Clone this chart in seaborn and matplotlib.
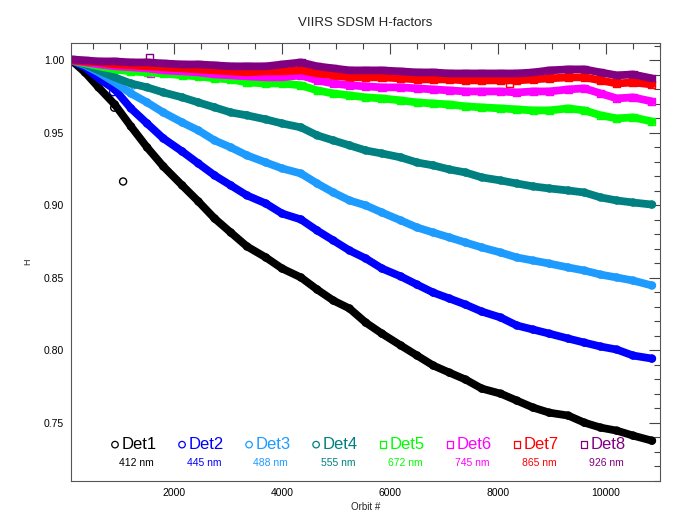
import matplotlib
matplotlib.use('Agg')
import matplotlib.pyplot as plt
import seaborn as sns
import pandas as pd
from matplotlib.ticker import MultipleLocator

# data (orbit number vs H-factor)
orbits = [100, 350, 600, 900, 1200, 1500, 1800, 2150, 2450, 2750, 3050, 3350,
          3700, 4000, 4350, 4650, 4950, 5250, 5550, 5850, 6200, 6500, 6800, 7100,
          7400, 7700, 8050, 8350, 8650, 8950, 9300, 9600, 9900, 10200, 10500, 10850]

det1 = [1.0000, 0.9917, 0.9814, 0.9696, 0.9545, 0.9400, 0.9269, 0.9138, 0.9027, 0.8910, 0.8813, 0.8717,
        0.8641, 0.8565, 0.8503, 0.8420, 0.8344, 0.8289, 0.8192, 0.8116, 0.8034, 0.7965, 0.7896, 0.7847,
        0.7799, 0.7737, 0.7702, 0.7654, 0.7606, 0.7571, 0.7551, 0.7502, 0.7468, 0.7447, 0.7413, 0.7378]
det2 = [1.0000, 0.9952, 0.9876, 0.9800, 0.9669, 0.9565, 0.9462, 0.9372, 0.9289, 0.9207, 0.9138, 0.9069,
        0.9013, 0.8944, 0.8903, 0.8827, 0.8758, 0.8689, 0.8634, 0.8565, 0.8510, 0.8454, 0.8399, 0.8358,
        0.8316, 0.8268, 0.8227, 0.8172, 0.8144, 0.8116, 0.8082, 0.8054, 0.8027, 0.8006, 0.7965, 0.7944]
det3 = [1.0000, 0.9966, 0.9917, 0.9848, 0.9772, 0.9710, 0.9641, 0.9572, 0.9517, 0.9448, 0.9400, 0.9345,
        0.9296, 0.9255, 0.9220, 0.9151, 0.9089, 0.9034, 0.9000, 0.8951, 0.8896, 0.8848, 0.8813, 0.8779,
        0.8744, 0.8710, 0.8675, 0.8641, 0.8620, 0.8599, 0.8572, 0.8551, 0.8523, 0.8503, 0.8482, 0.8448]
det4 = [1.0000, 0.9972, 0.9931, 0.9883, 0.9841, 0.9814, 0.9779, 0.9745, 0.9710, 0.9676, 0.9641, 0.9621,
        0.9593, 0.9565, 0.9538, 0.9483, 0.9448, 0.9414, 0.9379, 0.9358, 0.9331, 0.9296, 0.9276, 0.9248,
        0.9227, 0.9193, 0.9172, 0.9151, 0.9131, 0.9117, 0.9103, 0.9089, 0.9055, 0.9034, 0.9020, 0.9006]
det5 = [1.0000, 0.9979, 0.9959, 0.9938, 0.9924, 0.9917, 0.9910, 0.9897, 0.9890, 0.9876, 0.9869, 0.9848,
        0.9841, 0.9841, 0.9828, 0.9793, 0.9772, 0.9759, 0.9745, 0.9738, 0.9724, 0.9710, 0.9703, 0.9696,
        0.9683, 0.9676, 0.9669, 0.9662, 0.9655, 0.9655, 0.9669, 0.9655, 0.9621, 0.9600, 0.9607, 0.9579]
det6 = [1.0000, 0.9986, 0.9972, 0.9959, 0.9952, 0.9945, 0.9931, 0.9924, 0.9917, 0.9903, 0.9897, 0.9890,
        0.9883, 0.9883, 0.9897, 0.9862, 0.9841, 0.9828, 0.9821, 0.9814, 0.9814, 0.9807, 0.9800, 0.9793,
        0.9786, 0.9786, 0.9786, 0.9779, 0.9786, 0.9786, 0.9800, 0.9807, 0.9772, 0.9738, 0.9745, 0.9717]
det7 = [1.0000, 0.9993, 0.9986, 0.9972, 0.9966, 0.9959, 0.9952, 0.9945, 0.9938, 0.9931, 0.9924, 0.9917,
        0.9924, 0.9924, 0.9931, 0.9910, 0.9897, 0.9883, 0.9883, 0.9883, 0.9876, 0.9869, 0.9869, 0.9869,
        0.9862, 0.9862, 0.9862, 0.9862, 0.9869, 0.9876, 0.9883, 0.9883, 0.9862, 0.9841, 0.9848, 0.9834]
det8 = [1.0007, 1.0000, 0.9993, 0.9993, 0.9986, 0.9986, 0.9979, 0.9972, 0.9972, 0.9966, 0.9959, 0.9959,
        0.9959, 0.9972, 0.9986, 0.9959, 0.9945, 0.9931, 0.9931, 0.9931, 0.9924, 0.9917, 0.9917, 0.9910,
        0.9910, 0.9910, 0.9910, 0.9910, 0.9917, 0.9931, 0.9938, 0.9938, 0.9917, 0.9897, 0.9903, 0.9876]

detectors = ['Det1', 'Det2', 'Det3', 'Det4', 'Det5', 'Det6', 'Det7', 'Det8']
wavelengths = ['412 nm', '445 nm', '488 nm', '555 nm', '672 nm', '745 nm', '865 nm', '926 nm']
colors = ['#000000', '#0000ff', '#1e9bff', '#008080', '#00ff00', '#ff00ff', '#ff0000', '#800080']
markers = ['o', 'o', 'o', 'o', 's', 's', 's', 's']

# stray points off the main tracks
out_det = ['Det1', 'Det1', 'Det2', 'Det3', 'Det8', 'Det6', 'Det7']
out_orbit = [1055, 890, 870, 1250, 1540, 1560, 8220]
out_h = [0.9165, 0.9674, 0.9781, 0.9828, 1.0021, 0.9910, 0.9841]

series = [det1, det2, det3, det4, det5, det6, det7, det8]
df = pd.DataFrame({'orbit': orbits * 8,
                   'H': sum(series, []),
                   'det': [d for d in detectors for _ in orbits]})
out_df = pd.DataFrame({'orbit': out_orbit, 'H': out_h, 'det': out_det})

sns.set_style('white')
plt.rcParams['font.family'] = ['Liberation Sans', 'DejaVu Sans']

fig = plt.figure(figsize=(6.92, 5.13), dpi=100)
ax = fig.add_axes([0.1026, 0.0624, 0.8512, 0.8538])
pal = dict(zip(detectors, colors))

sns.lineplot(data=df, x='orbit', y='H', hue='det', palette=pal, lw=5.6,
             errorbar=None, legend=False, ax=ax, solid_capstyle='round')
for d, c, m in zip(detectors, colors, markers):
    sub = df[df['det'] == d]
    sns.scatterplot(data=sub, x='orbit', y='H', marker=m, s=26, facecolor='none',
                    edgecolor=c, linewidth=1, legend=False, ax=ax)
for d, c, m in zip(detectors, colors, markers):
    sub = out_df[out_df['det'] == d]
    if len(sub):
        sns.scatterplot(data=sub, x='orbit', y='H', marker=m, s=26, facecolor='none',
                        edgecolor=c, linewidth=1, legend=False, ax=ax)

ax.set_xlim(90, 11000)
ax.set_ylim(0.71, 1.012)
ax.xaxis.set_major_locator(MultipleLocator(2000))
ax.xaxis.set_minor_locator(MultipleLocator(500))
ax.yaxis.set_major_locator(MultipleLocator(0.05))
ax.yaxis.set_minor_locator(MultipleLocator(0.01))
ax.yaxis.set_major_formatter(plt.FormatStrFormatter('%.2f'))
ax.tick_params(which='both', direction='in', top=True, right=True, colors='#444444',
               labelcolor='black', labelsize=7.5, pad=5)
ax.tick_params(which='major', length=8, width=0.8)
ax.tick_params(which='minor', length=4, width=0.8)
for sp in ax.spines.values():
    sp.set_color('#555555')
    sp.set_linewidth(0.8)

ax.set_title('VIIRS SDSM H-factors', fontsize=9.5, pad=12)
ax.set_xlabel('Orbit #', fontsize=7, labelpad=3)
ax.set_ylabel('H', fontsize=6.5, labelpad=8)

# hand-made legend row at the bottom
for i, (d, w, c, m) in enumerate(zip(detectors, wavelengths, colors, markers)):
    x0 = 0.0747 + i * 0.1138
    ax.scatter([x0], [0.083], transform=ax.transAxes, marker=m, s=22,
               facecolor='none', edgecolor=c, linewidth=0.9, clip_on=False)
    ax.text(x0 + 0.011, 0.083, d, color=c, fontsize=12, transform=ax.transAxes,
            ha='left', va='center')
    ax.text(x0 + 0.037, 0.041, w, color=c, fontsize=7.5,
            transform=ax.transAxes, ha='center', va='center')

fig.savefig('out.png', dpi=100)
